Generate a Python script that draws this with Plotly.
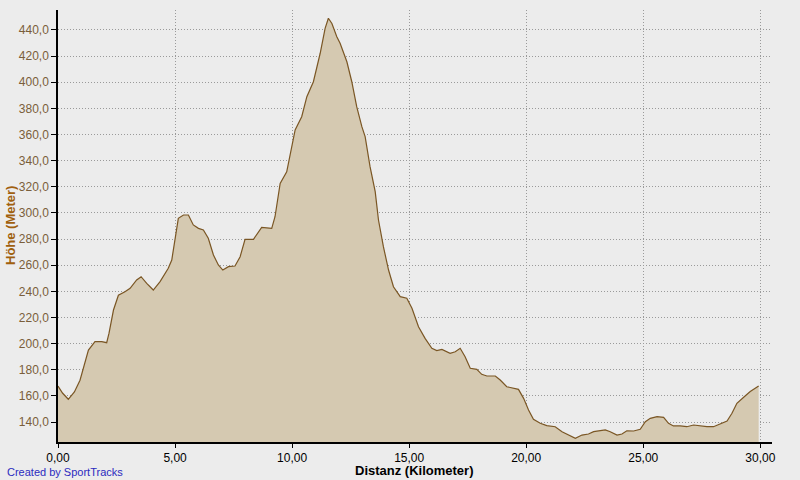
import plotly.graph_objects as go

# distance in km, elevation in m (read from the profile)
distanz_km = [
    0.00, 0.20, 0.44, 0.70, 0.94, 1.15, 1.30, 1.58, 1.87, 2.08, 2.18, 2.37, 2.58, 2.86,
    3.08, 3.36, 3.55, 3.79, 4.07, 4.36, 4.71, 4.86, 5.00, 5.14, 5.36, 5.57, 5.78, 6.00,
    6.21, 6.42, 6.64, 6.85, 7.04, 7.28, 7.56, 7.78, 7.99, 8.35, 8.70, 9.13, 9.27, 9.49,
    9.77, 9.91, 10.13, 10.41, 10.63, 10.91, 11.20, 11.41, 11.55, 11.70, 11.91, 12.05,
    12.34, 12.55, 12.76, 12.98, 13.12, 13.33, 13.55, 13.69, 13.90, 14.12, 14.33, 14.62,
    14.90, 15.12, 15.40, 15.68, 15.97, 16.18, 16.40, 16.75, 16.97, 17.18, 17.39, 17.61,
    17.89, 18.10, 18.32, 18.68, 18.89, 19.17, 19.46, 19.67, 19.89, 20.10, 20.31, 20.60,
    20.88, 21.24, 21.53, 21.81, 22.10, 22.38, 22.66, 22.88, 23.16, 23.38, 23.59, 23.88,
    24.09, 24.30, 24.59, 24.87, 25.09, 25.30, 25.59, 25.87, 26.08, 26.29, 26.58, 26.86,
    27.15, 27.44, 27.72, 28.00, 28.29, 28.58, 28.79, 29.00, 29.29, 29.57, 29.93,
]
hoehe_m = [
    167.5, 162.0, 157.4, 163.0, 172.0, 186.0, 195.0, 201.5, 201.5, 200.7, 208.0, 225.7,
    237.0, 239.7, 242.3, 248.7, 251.2, 246.1, 241.0, 247.4, 257.6, 264.0, 281.8, 295.9,
    298.4, 298.4, 290.8, 288.2, 287.0, 280.6, 267.8, 260.2, 256.3, 258.9, 259.4, 266.5,
    279.8, 279.8, 289.0, 288.2, 297.1, 322.6, 331.5, 343.0, 363.5, 373.6, 389.0, 400.4,
    422.2, 441.3, 449.0, 445.0, 434.9, 429.8, 415.7, 400.4, 381.3, 366.0, 358.4, 335.4,
    316.3, 294.6, 274.2, 256.3, 243.5, 235.9, 234.7, 227.0, 212.9, 204.0, 196.4, 194.6,
    195.6, 192.6, 193.8, 196.4, 190.0, 181.1, 180.3, 176.5, 175.2, 175.2, 172.1, 167.0,
    165.8, 165.0, 158.1, 149.2, 142.1, 139.0, 137.2, 136.4, 132.6, 130.0, 127.5, 130.0,
    130.8, 132.6, 133.1, 133.9, 132.6, 130.0, 130.8, 133.3, 133.1, 134.4, 140.2, 142.8,
    144.1, 143.6, 139.0, 137.0, 137.0, 136.4, 137.7, 137.0, 136.4, 136.4, 138.5, 140.8,
    146.7, 154.3, 158.9, 163.3, 167.6,
]

x_ticks = [0, 5, 10, 15, 20, 25, 30]
x_labels = ["0,00", "5,00", "10,00", "15,00", "20,00", "25,00", "30,00"]
y_ticks = list(range(140, 441, 20))
y_labels = [f"{v},0" for v in y_ticks]

bg = "#ECECEC"
font_family = "Liberation Sans, Arial, sans-serif"

fig = go.Figure()
fig.add_trace(go.Scatter(
    x=distanz_km, y=hoehe_m,
    mode="lines",
    fill="tozeroy",
    fillcolor="#D5C9B1",
    line=dict(color="#7A5624", width=1.2),
    hoverinfo="skip",
))

# plot area: 58..772 px wide, 10..442 px tall
fig.update_layout(
    width=800, height=480,
    margin=dict(l=58, r=28, t=10, b=38, autoexpand=False),
    paper_bgcolor=bg,
    plot_bgcolor=bg,
    showlegend=False,
    font=dict(family=font_family, size=12, color="#000000"),
    annotations=[
        dict(text="Created by SportTracks",
             xref="paper", yref="paper", x=-53 / 714, y=-30 / 432,
             xanchor="left", yanchor="middle", showarrow=False,
             font=dict(family=font_family, size=11, color="#2B2BBF")),
        dict(text="<b>Distanz (Kilometer)</b>",
             xref="paper", yref="paper", x=356 / 714, y=-38 / 432,
             xanchor="center", yanchor="bottom", showarrow=False,
             font=dict(family=font_family, size=13, color="#000000")),
        dict(text="<b>Höhe (Meter)</b>",
             xref="paper", yref="paper", x=-48 / 714, y=0.5, textangle=-90,
             xanchor="center", yanchor="middle", showarrow=False,
             font=dict(family=font_family, size=13, color="#A0600E")),
    ],
)

grid = dict(showgrid=True, gridcolor="#9A9A9A", griddash="1px,2px", gridwidth=1)

fig.update_xaxes(
    range=[0, 30.5], automargin=False,
    tickvals=x_ticks, ticktext=x_labels,
    ticks="outside", ticklen=4, tickcolor="#000000",
    showline=True, linecolor="#000000", linewidth=1.5,
    zeroline=False,
    tickfont=dict(size=12, color="#000000"),
    **grid,
)
fig.update_yaxes(
    range=[124.7, 455.3], automargin=False,
    tickvals=y_ticks, ticktext=y_labels,
    ticks="outside", ticklen=5, tickcolor="#000000",
    showline=True, linecolor="#000000", linewidth=1.5,
    zeroline=False,
    tickfont=dict(size=12, color="#7A5E3A"),
    **grid,
)

# drop the default page margin so the figure sits at the window's corner
fig.write_html(
    "out.html",
    config={"displayModeBar": False},
    post_script="document.body.style.margin='0px';document.body.style.background='#ECECEC';",
)
